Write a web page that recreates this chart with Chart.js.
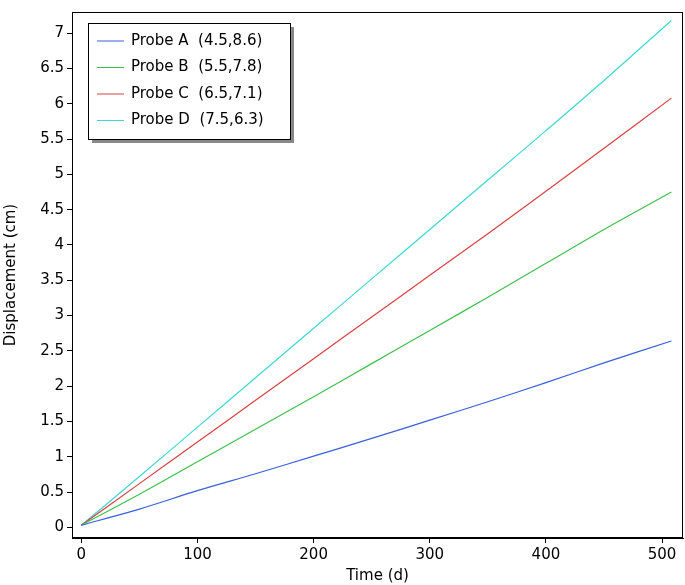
<!DOCTYPE html>
<html><head><meta charset="utf-8">
<script src="https://cdn.jsdelivr.net/npm/chart.js@4"></script>
<style>body{margin:0;background:#fff}#wrap{width:685px;height:585px}</style>
</head><body><div id="wrap"><canvas id="c"></canvas></div>
<script>
const times = [0, 50, 100, 150, 200, 250, 300, 350, 400, 450, 508];
const probeA = [0.03, 0.26, 0.52, 0.76, 1.01, 1.26, 1.52, 1.78, 2.05, 2.33, 2.64];
const probeB = [0.03, 0.47, 0.93, 1.39, 1.85, 2.32, 2.79, 3.26, 3.74, 4.22, 4.75];
const probeC = [0.03, 0.62, 1.21, 1.80, 2.39, 2.98, 3.57, 4.16, 4.76, 5.37, 6.08];
const probeD = [0.03, 0.72, 1.42, 2.12, 2.82, 3.52, 4.22, 4.92, 5.62, 6.33, 7.18];
const names = ["Probe A  (4.5,8.6)", "Probe B  (5.5,7.8)", "Probe C  (6.5,7.1)", "Probe D  (7.5,6.3)"];
const colors = ["#3a5fdb", "#3fbf4f", "#d94040", "#3fd6d6"];
const series = [probeA, probeB, probeC, probeD];

const font = { family: "DejaVu Sans", size: 15 };

// legend box inside plot, top-left
const boxLegend = {
  id: "boxLegend",
  afterDraw(chart) {
    const ctx = chart.ctx, a = chart.chartArea;
    const x = a.left + 16, y = a.top + 11, w = 202, h = 116;
    ctx.save();
    ctx.fillStyle = "#888";
    ctx.fillRect(x + 4, y + 4, w, h);
    ctx.fillStyle = "#fff";
    ctx.fillRect(x, y, w, h);
    ctx.strokeStyle = "#000";
    ctx.lineWidth = 1;
    ctx.strokeRect(x + 0.5, y + 0.5, w, h);
    ctx.font = "15px DejaVu Sans";
    ctx.textBaseline = "middle";
    names.forEach((n, i) => {
      const ly = y + 18 + i * 26.5;
      ctx.strokeStyle = colors[i];
      ctx.beginPath(); ctx.moveTo(x + 9, ly); ctx.lineTo(x + 36, ly); ctx.stroke();
      ctx.fillStyle = "#000";
      ctx.fillText(n, x + 43, ly);
    });
    ctx.strokeStyle = "#000";
    ctx.strokeRect(a.left + 0.5, a.top + 0.5, a.right - a.left - 1, a.bottom - a.top - 1);
    ctx.restore();
  }
};

new Chart(document.getElementById("c"), {
  type: "line",
  data: {
    datasets: series.map((s, i) => ({
      label: names[i],
      data: times.map((t, j) => ({ x: t, y: s[j] })),
      borderColor: colors[i],
      borderWidth: 1.2,
      pointRadius: 0,
      tension: 0.3,
      fill: false
    }))
  },
  options: {
    responsive: true,
    maintainAspectRatio: false,
    animation: false,
    layout: { padding: { top: 5, right: 2 } },
    plugins: { legend: { display: false }, tooltip: { enabled: false } },
    scales: {
      x: {
        type: "linear", min: -8, max: 518,
        afterBuildTicks: s => { s.ticks = [0, 100, 200, 300, 400, 500].map(v => ({ value: v })); },
        afterFit: s => { s.height = 47; },
        title: { display: true, text: "Time (d)", font: font, color: "#000", padding: 0 },
        ticks: { font: font, color: "#000", maxRotation: 0 },
        grid: { drawOnChartArea: false, tickLength: 5, color: "#000" },
        border: { color: "#000" }
      },
      y: {
        min: -0.15, max: 7.3,
        afterBuildTicks: s => { s.ticks = []; for (let v = 0; v <= 7; v += 0.5) s.ticks.push({ value: v }); },
        afterFit: s => { s.width = 72; },
        title: { display: true, text: "Displacement (cm)", font: font, color: "#000", padding: 2 },
        ticks: { font: font, color: "#000", callback: v => String(v) },
        grid: { drawOnChartArea: false, tickLength: 5, color: "#000" },
        border: { color: "#000" }
      }
    }
  },
  plugins: [boxLegend]
});
</script></body></html>
